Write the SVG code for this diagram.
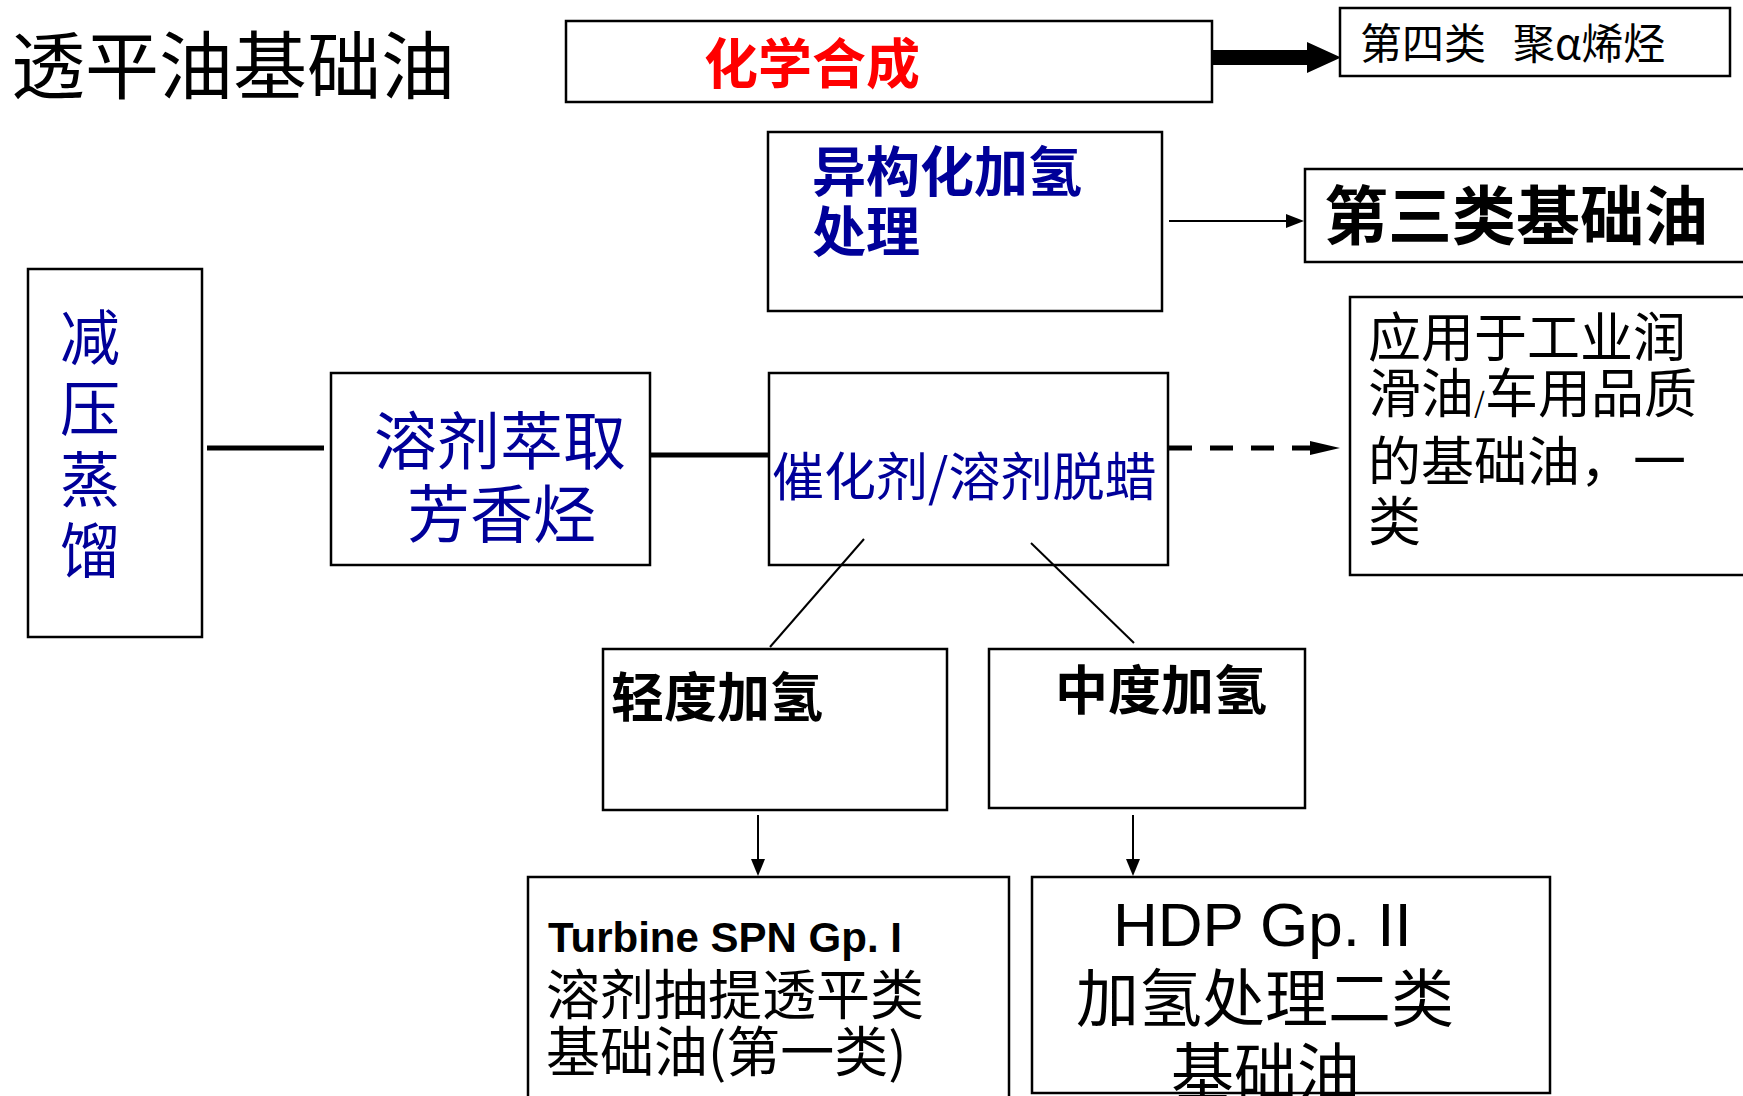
<svg xmlns="http://www.w3.org/2000/svg" width="1743" height="1096" viewBox="0 0 1743 1096">
<style>
.box{fill:#fff;stroke:#000;stroke-width:2.5}
.cjk{font-family:"Noto Sans CJK SC","Liberation Sans",sans-serif}
.blue{fill:#000099}
.blk{fill:#000}
.ln{stroke:#000;fill:none}
</style>
<rect width="1743" height="1096" fill="#fff"/>

<g id="title"><text class="cjk blk" x="11" y="93" font-size="74">透平油基础油</text></g>

<g id="n-chem"><rect class="box" x="566" y="21" width="646" height="81"/>
<text class="cjk" x="704" y="84" font-size="54" font-weight="bold" fill="#ff0000">化学合成</text></g>

<g id="n-pao"><rect class="box" x="1340" y="8" width="390" height="68"/>
<text class="cjk blk" x="1360" y="59" font-size="42">第四类<tspan x="1513">聚α烯烃</tspan></text></g>

<g id="n-iso"><rect class="box" x="768" y="132" width="394" height="179"/>
<text class="cjk blue" x="812" y="192" font-size="54" font-weight="bold">异构化加氢</text>
<text class="cjk blue" x="812" y="252" font-size="54" font-weight="bold">处理</text></g>

<g id="n-g3"><rect class="box" x="1305" y="169" width="450" height="93"/>
<text class="cjk blk" x="1324" y="239" font-size="64" font-weight="bold">第三类基础油</text></g>

<g id="n-vac"><rect class="box" x="28" y="269" width="174" height="368"/>
<text class="cjk blue" font-size="60"><tspan x="60" y="360">减</tspan><tspan x="60" y="431">压</tspan><tspan x="60" y="502">蒸</tspan><tspan x="60" y="573">馏</tspan></text></g>

<g id="n-solv"><rect class="box" x="331" y="373" width="319" height="192"/>
<text class="cjk blue" x="374" y="464" font-size="63">溶剂萃取</text>
<text class="cjk blue" x="407" y="537" font-size="63">芳香烃</text></g>

<g id="n-dewax"><rect class="box" x="769" y="373" width="399" height="192"/>
<text class="cjk blue" x="772" y="496" font-size="52">催化剂/溶剂脱蜡</text></g>

<g id="n-app"><rect class="box" x="1350" y="297" width="405" height="278"/>
<text class="cjk blk" font-size="53"><tspan x="1368" y="357">应用于工业润</tspan><tspan x="1368" y="413">滑油<tspan font-size="28">/</tspan>车用品质</tspan><tspan x="1368" y="481">的基础油，一</tspan><tspan x="1368" y="541">类</tspan></text></g>

<g id="n-light"><rect class="box" x="603" y="649" width="344" height="161"/>
<text class="cjk blk" x="611" y="717" font-size="53" font-weight="bold">轻度加氢</text></g>

<g id="n-mid"><rect class="box" x="989" y="649" width="316" height="159"/>
<text class="cjk blk" x="1055" y="710" font-size="53" font-weight="bold">中度加氢</text></g>

<g id="n-g1"><rect class="box" x="528" y="877" width="481" height="240"/>
<text x="548" y="952" font-size="42" font-weight="bold" font-family="Liberation Sans, Arial, sans-serif" fill="#000">Turbine SPN Gp. I</text>
<text class="cjk blk" x="546" y="1015" font-size="54">溶剂抽提透平类</text>
<text class="cjk blk" x="546" y="1072" font-size="54">基础油(第一类)</text></g>

<g id="n-g2"><rect class="box" x="1032" y="877" width="518" height="216"/>
<text x="1113" y="946" font-size="62" font-family="Liberation Sans, Arial, sans-serif" fill="#000">HDP Gp. II</text>
<text class="cjk blk" x="1076" y="1021" font-size="63">加氢处理二类</text>
<text class="cjk blk" x="1171" y="1095" font-size="63">基础油</text></g>

<g id="connectors">
<polygon points="1212,50 1307,50 1307,42 1341,57.5 1307,73 1307,65 1212,65" fill="#000"/>
<line class="ln" x1="1169" y1="221" x2="1288" y2="221" stroke-width="2"/>
<polygon points="1286,214 1304,221 1286,228" fill="#000"/>
<line class="ln" x1="207" y1="448" x2="324" y2="448" stroke-width="5"/>
<line class="ln" x1="650" y1="455" x2="769" y2="455" stroke-width="5"/>
<line class="ln" x1="1169" y1="448" x2="1315" y2="448" stroke-width="5" stroke-dasharray="23 18"/>
<polygon points="1310,441 1340,448 1310,455" fill="#000"/>
<line class="ln" x1="864" y1="539" x2="770" y2="647" stroke-width="2"/>
<line class="ln" x1="1031" y1="543" x2="1134" y2="643" stroke-width="2"/>
<line class="ln" x1="758" y1="815" x2="758" y2="862" stroke-width="2"/>
<polygon points="751,859 758,876 765,859" fill="#000"/>
<line class="ln" x1="1133" y1="815" x2="1133" y2="862" stroke-width="2"/>
<polygon points="1126,859 1133,876 1140,859" fill="#000"/>
</g>
</svg>
